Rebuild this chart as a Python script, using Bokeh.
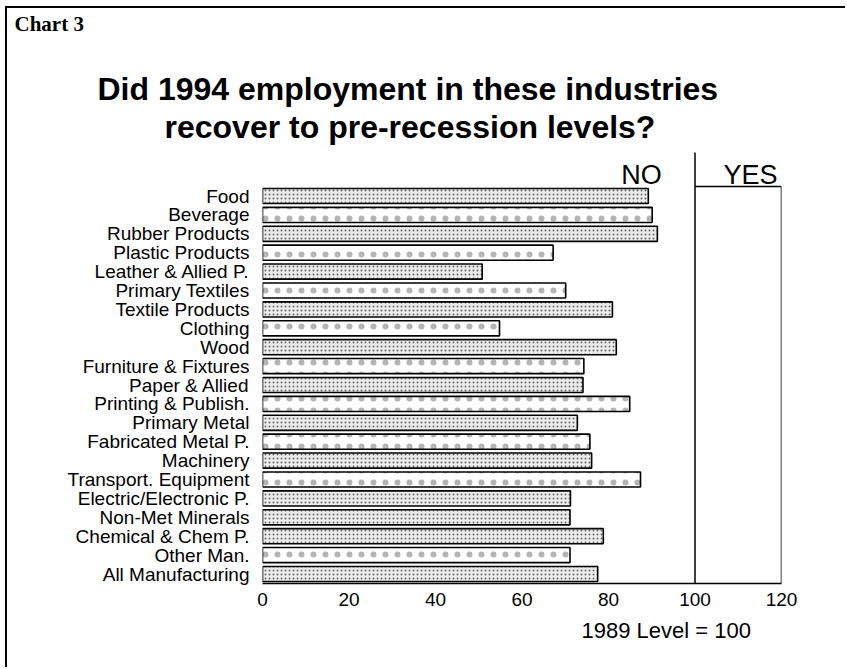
from bokeh.plotting import figure
from bokeh.models import Range1d, FixedTicker, Label, Title, InlineStyleSheet
from bokeh.embed import file_html
from bokeh.resources import INLINE

# Employment in 1994 by industry, indexed to 1989 = 100
industries = [
    "Food", "Beverage", "Rubber Products", "Plastic Products",
    "Leather & Allied P.", "Primary Textiles", "Textile Products", "Clothing",
    "Wood", "Furniture & Fixtures", "Paper & Allied", "Printing & Publish.",
    "Primary Metal", "Fabricated Metal P.", "Machinery", "Transport. Equipment",
    "Electric/Electronic P.", "Non-Met Minerals", "Chemical & Chem P.",
    "Other Man.", "All Manufacturing",
]
index_1994 = [
    89.2, 90.1, 91.3, 67.2, 50.8, 70.1, 80.9, 54.8, 81.8, 74.3, 74.1,
    84.9, 72.8, 75.7, 76.1, 87.4, 71.2, 71.1, 78.8, 71.1, 77.5,
]
x_ticks = [0, 20, 40, 60, 80, 100, 120]
recovery_level = 100
x_max = 120

# Bar shading: dense stipple ("d") or sparse dots ("s")
shading = ["d", "s", "d", "s", "d", "s", "d", "s", "d", "s", "d",
           "s", "d", "s", "d", "s", "d", "d", "d", "s", "d"]

# Page geometry (page pixels); the canvas sits inside a thin page rule
PAGE_W, PAGE_H = 847, 669
OX, OY = 7, 8                    # canvas origin on the page
RULE = 2                         # page rule thickness
W, H = PAGE_W - OX, PAGE_H - OY
FL, FR, FT, FB = 262, 781, 144, 583      # plot frame edges (page pixels)
ROW = 18.9                                # pixels per industry row
Y_FIRST = 195.5                           # page pixel centre of the first row
n = len(industries)

y_top = (FT - Y_FIRST) / ROW
y_bottom = (FB - Y_FIRST) / ROW


def dx(px):
    return (px - FL) * x_max / (FR - FL)


def dy(py):
    return (py - Y_FIRST) / ROW


p = figure(width=W, height=H, output_backend="svg", toolbar_location=None,
           x_range=Range1d(0, x_max), y_range=Range1d(y_bottom, y_top),
           min_border_left=FL - OX, min_border_right=PAGE_W - FR,
           min_border_top=FT - OY, min_border_bottom=PAGE_H - FB)
p.outline_line_color = None
p.grid.visible = False
p.background_fill_color = "white"
p.border_fill_color = "white"
# page rule along the left and top edges
p.stylesheets = [InlineStyleSheet(css=(
    f":host {{ margin-left: {OX - RULE}px; margin-top: {OY - RULE}px; "
    f"border-left: {RULE}px solid #000; border-top: {RULE}px solid #000; }}"
))]

rows = list(range(n))
dense = [i for i in rows if shading[i] == "d"]
sparse = [i for i in rows if shading[i] == "s"]

p.hbar(y=dense, left=0, right=[index_1994[i] for i in dense], height=0.8,
       fill_color="#ececec", line_color="black", line_width=1.6,
       hatch_pattern="dot", hatch_scale=4, hatch_color="#6a6a6a", hatch_weight=1)
p.hbar(y=sparse, left=0, right=[index_1994[i] for i in sparse], height=0.8,
       fill_color="white", line_color="black", line_width=1.6,
       hatch_pattern="dot", hatch_scale=12, hatch_color="#b4b4b4", hatch_weight=1)

# Recovery divider and the YES box
p.segment(x0=[recovery_level], y0=[dy(152)], x1=[recovery_level], y1=[y_bottom],
          line_color="black", line_width=1.5)
p.segment(x0=[recovery_level, x_max], y0=[-0.5, -0.5], x1=[x_max, x_max], y1=[-0.5, y_bottom],
          line_color="black", line_width=1.5)

# Axes
xa = p.xaxis[0]
xa.ticker = FixedTicker(ticks=x_ticks)
xa.major_label_text_font = "Liberation Sans"
xa.major_label_text_font_size = "19px"
xa.major_label_text_color = "black"
xa.major_tick_line_color = None
xa.minor_tick_line_color = None
xa.major_tick_out = 0
xa.major_label_standoff = 9
xa.axis_line_color = "black"
xa.axis_line_width = 1.5

ya = p.yaxis[0]
ya.ticker = FixedTicker(ticks=rows)
ya.major_label_overrides = {i: name for i, name in enumerate(industries)}
ya.major_label_text_font = "Liberation Sans"
ya.major_label_text_font_size = "19px"
ya.major_label_text_color = "black"
ya.major_tick_line_color = None
ya.minor_tick_line_color = None
ya.major_tick_out = 0
ya.major_label_standoff = 13
ya.axis_line_color = None

# NO / YES headers inside the frame
for text, px in (("NO", 641), ("YES", 750)):
    p.add_layout(Label(x=dx(px), y=dy(174), text=text, text_align="center",
                       text_baseline="alphabetic", text_font="Liberation Sans",
                       text_font_size="27px", text_color="black"))

# Titles stacked above the frame (first added sits closest to the frame)
p.add_layout(Title(text="recover to pre-recession levels?", align="left",
                   offset=164 - FL, standoff=0,
                   text_font="Liberation Sans", text_font_size="32px",
                   text_font_style="bold", text_color="black"), "above")
p.add_layout(Title(text="Did 1994 employment in these industries", align="left",
                   offset=97 - FL, standoff=0,
                   text_font="Liberation Sans", text_font_size="32px",
                   text_font_style="bold", text_color="black"), "above")
p.add_layout(Title(text="Chart 3", align="left", offset=14 - FL, standoff=0,
                   padding=dict(top=0, right=0, bottom=33, left=0),
                   text_font="Liberation Serif", text_font_size="21px",
                   text_font_style="bold", text_color="black"), "above")

# Index note below the axis
p.add_layout(Title(text="1989 Level = 100", align="left", offset=581 - FL,
                   standoff=15, text_font="Liberation Sans", text_font_size="22px",
                   text_font_style="normal", text_color="black"), "below")

open("out.html", "w").write(file_html(p, INLINE))
